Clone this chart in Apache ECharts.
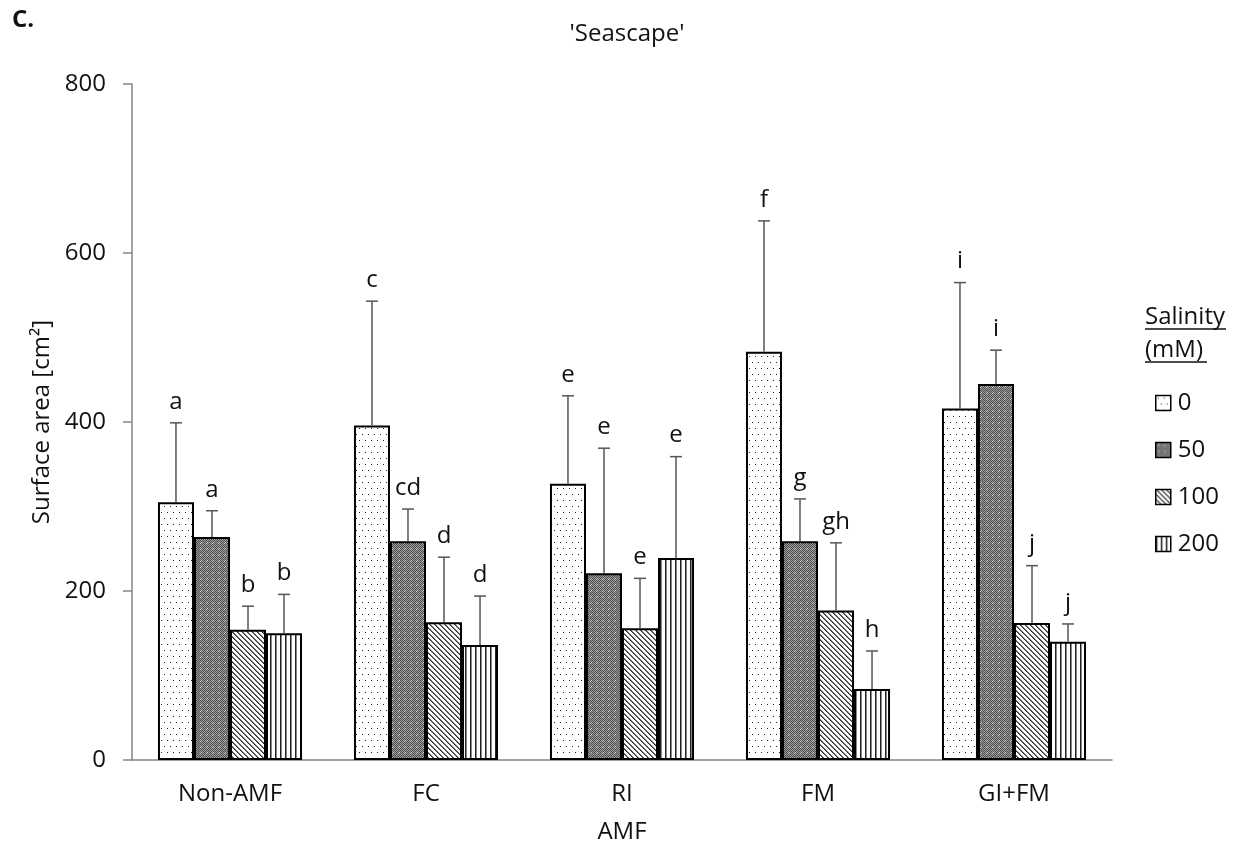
<!DOCTYPE html>
<html>
<head>
<meta charset="utf-8">
<script src="https://cdn.jsdelivr.net/npm/echarts@6/dist/echarts.min.js"></script>
<style>
html,body{margin:0;padding:0;background:#fff;}
#chart{width:1237px;height:850px;}
</style>
</head>
<body>
<div id="chart"></div>
<script>
// ---- data ----
const categories = ['Non-AMF', 'FC', 'RI', 'FM', 'GI+FM'];
const salinityLevels = ['0', '50', '100', '200'];
const mean0 = [305, 396, 327, 483, 416];
const mean50 = [264, 259, 221, 259, 445];
const mean100 = [154, 163, 156, 177, 162];
const mean200 = [150, 136, 239, 84, 140];
const sd0 = [94, 147, 104, 155, 149];
const sd50 = [31, 38, 148, 50, 40];
const sd100 = [28, 77, 59, 80, 68];
const sd200 = [46, 58, 120, 45, 21];
const letters0 = ['a', 'c', 'e', 'f', 'i'];
const letters50 = ['a', 'cd', 'e', 'g', 'i'];
const letters100 = ['b', 'd', 'e', 'gh', 'j'];
const letters200 = ['b', 'd', 'e', 'h', 'j'];
const yTicks = [0, 200, 400, 600, 800];

const means = [mean0, mean50, mean100, mean200];
const sds = [sd0, sd50, sd100, sd200];
const letters = [letters0, letters50, letters100, letters200];

const FONT = '"Open Sans", "Liberation Sans", sans-serif';
const CAT_GAP = 0.265;

function tile(w, h, draw) {
  const c = document.createElement('canvas');
  c.width = w; c.height = h;
  const g = c.getContext('2d');
  draw(g, w, h);
  return c;
}
function px(g, x, y, col) { g.fillStyle = col; g.fillRect(x, y, 1, 1); }

const patDots = tile(12, 12, (g, w, h) => {
  g.fillStyle = '#fff'; g.fillRect(0, 0, w, h);
  [[2,2],[8,2],[5,8],[11,8]].forEach(p => px(g, p[0], p[1], '#222'));
});
const patChecker = tile(6, 6, (g, w, h) => {
  for (let y = 0; y < h; y++) for (let x = 0; x < w; x++) {
    px(g, x, y, (x + y) % 2 === 0 ? '#505050' : '#9a9a9a');
  }
  [[2,3],[3,2]].forEach(p => px(g, p[0], p[1], '#dcdcdc'));
});
const patDiag = tile(5, 5, (g, w, h) => {
  g.fillStyle = '#fff'; g.fillRect(0, 0, w, h);
  for (let i = 0; i < 5; i++) { px(g, i, i, '#333'); px(g, (i + 1) % 5, i, '#777'); }
});
const patVert = tile(5, 1, (g, w, h) => {
  g.fillStyle = '#fff'; g.fillRect(0, 0, w, h);
  px(g, 0, 0, '#222'); px(g, 1, 0, '#888');
});
const patterns = [patDots, patChecker, patDiag, patVert];

const series = [];
salinityLevels.forEach((name, k) => {
  series.push({
    name: name,
    type: 'bar',
    barGap: '0%',
    barCategoryGap: (CAT_GAP * 100) + '%',
    data: means[k],
    itemStyle: {
      color: { image: patterns[k], repeat: 'repeat' },
      borderColor: '#000',
      borderWidth: 2
    },
    emphasis: { disabled: true },
    z: 2
  });
});
salinityLevels.forEach((name, k) => {
  series.push({
    name: 'err' + name,
    type: 'custom',
    z: 5,
    silent: true,
    data: means[k].map((m, i) => [i, m, sds[k][i]]),
    renderItem: function (params, api) {
      const ci = api.value(0), m = api.value(1), s = api.value(2);
      const b = api.coord([ci, m]);
      const t = api.coord([ci, m + s]);
      const catW = api.size([1, 0])[0];
      const grp = catW * (1 - CAT_GAP);
      const bw = grp / 4;
      const x = b[0] - grp / 2 + (k + 0.5) * bw;
      const st = { stroke: '#555', lineWidth: 1.5 };
      return {
        type: 'group',
        children: [
          { type: 'line', shape: { x1: x, y1: b[1], x2: x, y2: t[1] }, style: st },
          { type: 'line', shape: { x1: x - 6, y1: t[1], x2: x + 6, y2: t[1] }, style: st },
          { type: 'text', x: x, y: t[1] - 9,
            style: { text: letters[k][params.dataIndex], font: '24px ' + FONT, fill: '#111',
                     align: 'center', verticalAlign: 'bottom' } }
        ]
      };
    }
  });
});

const chart = echarts.init(document.getElementById('chart'));
chart.setOption({
  backgroundColor: '#fff',
  animation: false,
  title: {
    text: "'Seascape'",
    left: 622, textAlign: 'center', top: 17,
    textStyle: { fontFamily: FONT, fontSize: 24, fontWeight: 'normal', color: '#111' }
  },
  grid: { left: 132, right: 125, top: 84, bottom: 90, containLabel: false },
  legend: {
    data: salinityLevels,
    orient: 'vertical',
    left: 1150, top: 383,
    itemWidth: 15, itemHeight: 15, itemGap: 17,
    icon: 'rect',
    itemStyle: { borderColor: '#000', borderWidth: 1.5 },
    textStyle: { fontFamily: FONT, fontSize: 24, color: '#111', lineHeight: 30, padding: [0, 0, 0, 2] },
    selectedMode: false
  },
  xAxis: {
    type: 'category',
    data: categories,
    name: 'AMF',
    nameLocation: 'middle',
    nameGap: 60,
    nameTextStyle: { fontFamily: FONT, fontSize: 24, color: '#111' },
    axisLine: { lineStyle: { color: '#868686', width: 1.5 } },
    axisTick: { length: 8, lineStyle: { color: '#868686', width: 1.5 } },
    axisLabel: { fontFamily: FONT, fontSize: 24, color: '#111', margin: 22 }
  },
  yAxis: {
    type: 'value',
    min: yTicks[0], max: yTicks[yTicks.length - 1], interval: 200,
    name: 'Surface area [cm²]',
    nameLocation: 'middle',
    nameGap: 78,
    nameRotate: 90,
    nameTextStyle: { fontFamily: FONT, fontSize: 24, color: '#111' },
    axisLine: { show: true, lineStyle: { color: '#868686', width: 1.5 } },
    axisTick: { show: true, length: 9, lineStyle: { color: '#868686', width: 1.5 } },
    splitLine: { show: false },
    axisLabel: { fontFamily: FONT, fontSize: 24, color: '#111', margin: 26 }
  },
  graphic: [
    { type: 'text', left: 12, top: 8, style: { text: 'C.', font: 'bold 24px ' + FONT, fill: '#111' } },
    { type: 'text', x: 1145, y: 317, style: { text: 'Salinity', font: '24px ' + FONT, fill: '#111', verticalAlign: 'middle' } },
    { type: 'line', shape: { x1: 1145, y1: 329, x2: 1226, y2: 329 }, style: { stroke: '#111', lineWidth: 1.5 } },
    { type: 'text', x: 1145, y: 350, style: { text: '(mM)', font: '24px ' + FONT, fill: '#111', verticalAlign: 'middle' } },
    { type: 'line', shape: { x1: 1145, y1: 362, x2: 1207, y2: 362 }, style: { stroke: '#111', lineWidth: 1.5 } }
  ],
  series: series
});
</script>
</body>
</html>
